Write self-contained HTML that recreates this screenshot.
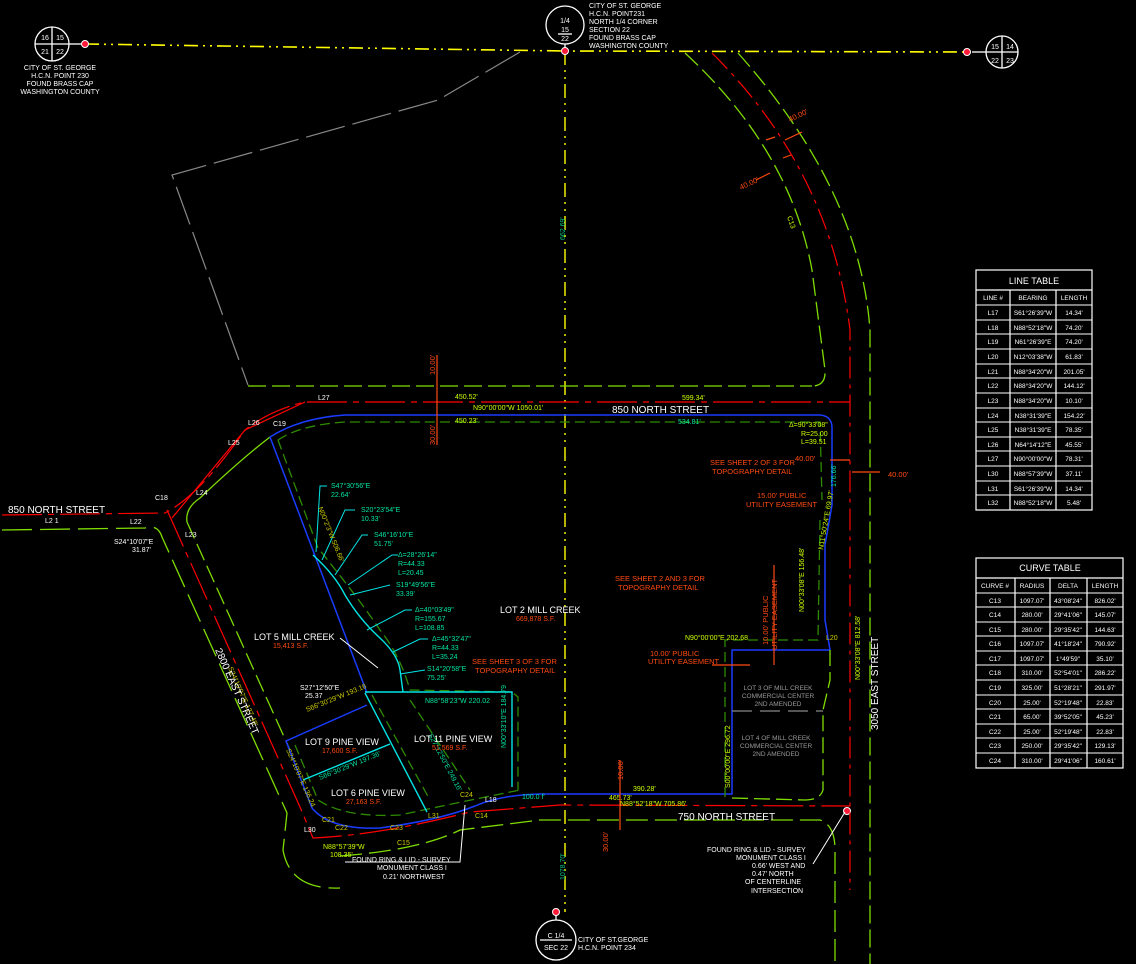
<!DOCTYPE html>
<html><head><meta charset="utf-8"><style>
html,body{margin:0;padding:0;background:#000;width:1136px;height:964px;overflow:hidden}
svg{display:block}
text{font-family:"Liberation Sans",sans-serif}
</style></head><body>
<svg width="1136" height="964" viewBox="0 0 1136 964" xmlns="http://www.w3.org/2000/svg">
<rect width="1136" height="964" fill="#000"/>
<polyline points="85,44 565,51 967,52" fill="none" stroke="#ffff00" stroke-width="1.6" stroke-dasharray="14,5,2,5,2,5"/>
<line x1="565" y1="51" x2="565" y2="912" stroke="#ffff00" stroke-width="1.4" stroke-dasharray="14,5,2,5,2,5"/>
<polyline points="520,52 438,100 172,175 248,385" fill="none" stroke="#888" stroke-width="1.2" stroke-dasharray="40,8"/>
<g stroke="#fff" stroke-width="1.3" fill="none">
<circle cx="52" cy="44" r="17"/><line x1="35" y1="44" x2="69" y2="44"/><line x1="52" y1="27" x2="52" y2="61"/>
<line x1="69" y1="44" x2="81" y2="44"/>
<circle cx="565" cy="25" r="19"/><line x1="565" y1="44" x2="565" y2="50"/>
<line x1="558" y1="34" x2="572" y2="34"/>
<circle cx="1002" cy="52" r="16"/><line x1="986" y1="52" x2="1018" y2="52"/><line x1="1002" y1="36" x2="1002" y2="68"/>
<line x1="986" y1="52" x2="972" y2="52"/>
<circle cx="556" cy="940" r="20"/><line x1="556" y1="910" x2="556" y2="920"/>
<line x1="540" y1="940" x2="572" y2="940"/>
</g>
<g fill="#ff1a3a" stroke="#fff" stroke-width="1"><circle cx="85" cy="44" r="3.5"/><circle cx="565" cy="51" r="3.5"/><circle cx="967" cy="52" r="3.5"/><circle cx="556" cy="912" r="3.5"/><circle cx="847" cy="811" r="3.5"/></g>
<g fill="#fff" font-size="7" text-anchor="middle">
<text x="45" y="40">16</text><text x="60" y="40">15</text><text x="45" y="54">21</text><text x="60" y="54">22</text>
<text x="565" y="23">1/4</text><text x="565" y="32">15</text><text x="565" y="41">22</text>
<text x="995" y="49">15</text><text x="1010" y="49">14</text><text x="995" y="63">22</text><text x="1010" y="63">23</text>
<text x="556" y="938">C 1/4</text><text x="556" y="950">SEC 22</text>
<text x="60" y="70">CITY OF ST. GEORGE</text><text x="60" y="78">H.C.N. POINT 230</text><text x="60" y="86">FOUND BRASS CAP</text><text x="60" y="94">WASHINGTON COUNTY</text>
</g>
<g fill="#fff" font-size="7">
<text x="589" y="8">CITY OF ST. GEORGE</text><text x="589" y="16">H.C.N. POINT231</text><text x="589" y="24">NORTH 1/4 CORNER</text><text x="589" y="32">SECTION 22</text><text x="589" y="40">FOUND BRASS CAP</text><text x="589" y="48">WASHINGTON COUNTY</text>
<text x="578" y="942">CITY OF ST.GEORGE</text><text x="578" y="950">H.C.N. POINT 234</text>
</g>
<path d="M685,53 Q790,150 812,270 L825,370 Q826,386 812,386" fill="none" stroke="#7fdd00" stroke-width="1.3" stroke-dasharray="18,6"/>
<line x1="248" y1="386" x2="812" y2="386" stroke="#7fdd00" stroke-width="1.3" stroke-dasharray="18,6"/>
<path d="M712,53 Q830,170 850,330 L850,890" fill="none" stroke="#ff0000" stroke-width="1.2" stroke-dasharray="22,6,4,6"/>
<path d="M738,53 Q860,190 870,330 L870,964" fill="none" stroke="#7fdd00" stroke-width="1.3" stroke-dasharray="18,6"/>
<path d="M2,515 L165,513 Q200,495 245,430 Q270,410 305,402 L850,402" fill="none" stroke="#ff0000" stroke-width="1.2" stroke-dasharray="40,6,6,6"/>
<polyline points="172,518 245,430 305,402" fill="none" stroke="#ff0000" stroke-width="1.2"/>
<path d="M2,530 L145,528 Q158,524 162,537 L287,813 L283,850 Q290,890 340,888" fill="none" stroke="#7fdd00" stroke-width="1.3" stroke-dasharray="30,8"/>
<path d="M187,522 Q185,508 200,498 Q240,460 270,437" fill="none" stroke="#7fdd00" stroke-width="1.3"/>
<line x1="187" y1="522" x2="290" y2="750" stroke="#7fdd00" stroke-width="1.3" stroke-dasharray="18,6"/>
<path d="M167,510 L300,807 L313,838 Q380,835 470,812 L560,805 L850,806" fill="none" stroke="#ff0000" stroke-width="1.2" stroke-dasharray="40,6,6,6"/>
<path d="M340,856 Q420,850 460,830 L540,820 L820,820 Q835,825 835,850 L835,964" fill="none" stroke="#7fdd00" stroke-width="1.3" stroke-dasharray="22,7"/>
<path d="M270,437 Q300,418 345,415 L820,415 Q832,416 832,428 L832,505 L825,545 L825,620 L830,650" fill="none" stroke="#1a3cff" stroke-width="1.5"/>
<path d="M270,437 L367,693 M367,705 L286,741 L312,808 Q330,830 380,828 Q440,820 475,806 Q500,795 540,794 L732,794 L732,650 L830,650" fill="none" stroke="#1a3cff" stroke-width="1.5"/>
<g fill="none" stroke="#2e8b00" stroke-width="1.3" stroke-dasharray="10,5">
<path d="M278,440 Q300,425 345,422 L820,422 L822,500 M820,520 L818,640 L725,640 L725,800"/>
<path d="M278,440 L318,548 Q360,600 380,630 Q400,655 410,690 L512,692 L518,697 L518,790"/>
<path d="M372,695 L430,800 M295,745 L318,800 Q345,818 400,815 Q470,800 520,790"/>
<path d="M410,700 L470,790"/>
</g>
<g fill="none" stroke="#00e5e5" stroke-width="1.4">
<path d="M313,555 Q335,575 345,595 Q360,620 380,638 Q398,655 400,670 L403,692"/>
<polyline points="365,692 512,692 512,787"/>
<line x1="365" y1="693" x2="427" y2="812"/>
<line x1="303" y1="780" x2="390" y2="744"/>
</g>
<path d="M830,650 L830,680 L823,710 L823,790 Q820,800 805,800 L732,798" fill="none" stroke="#7fdd00" stroke-width="1.3" stroke-dasharray="16,6"/>
<line x1="732" y1="711" x2="823" y2="711" stroke="#888" stroke-width="1.3" stroke-dasharray="20,8"/>
<g stroke="#00e5e5" stroke-width="1" fill="none">
<polyline points="327,486 320,486 316,552"/><polyline points="355,510 345,510 322,560"/><polyline points="368,535 362,535 335,575"/>
<polyline points="398,555 392,555 348,585"/><polyline points="390,585 350,595"/><polyline points="412,610 405,610 367,630"/>
<polyline points="428,639 420,639 393,652"/><polyline points="425,670 400,674"/>
</g>
<g font-size="7" fill="#00e5a0">
<text x="331" y="488">S47°30'56"E</text><text x="331" y="497">22.64'</text>
<text x="361" y="512">S20°23'54"E</text><text x="361" y="521">10.33'</text>
<text x="374" y="537">S46°16'10"E</text><text x="374" y="546">51.75'</text>
<text x="398" y="557">Δ=28°26'14"</text><text x="398" y="566">R=44.33</text><text x="398" y="575">L=20.45</text>
<text x="396" y="587">S19°49'56"E</text><text x="396" y="596">33.39'</text>
<text x="415" y="612">Δ=40°03'49"</text><text x="415" y="621">R=155.67</text><text x="415" y="630">L=108.85</text>
<text x="432" y="641">Δ=45°32'47"</text><text x="432" y="650">R=44.33</text><text x="432" y="659">L=35.24</text>
<text x="427" y="671">S14°20'58"E</text><text x="427" y="680">75.25'</text>
<text x="425" y="703">N88°58'23"W 220.02</text>
<text x="522" y="799">100.0 f'</text>
<text transform="translate(506,748) rotate(-90)">N00°33'10"E 184.79</text>
<text transform="translate(836,487) rotate(-90)">176.66'</text>
<text transform="translate(318,508) rotate(68)" fill="#cccc00">N00°2'3"W 506.66'</text>
<text transform="translate(565,240) rotate(-90)" fill="#00c080">662.69'</text>
<text transform="translate(565,880) rotate(-90)" fill="#00c080">1078.70'</text>
<text transform="translate(428,735) rotate(62)">S27°12'50"E 249.16'</text>
<text transform="translate(320,780) rotate(-22)">S66°30'29"W 197.36'</text>
</g>
<g font-size="7" fill="#ccff00">
<text transform="translate(804,612) rotate(-90)">N00°33'08"E 156.48'</text>
<text transform="translate(860,680) rotate(-90)">N00°33'08"E 812.58'</text>
<text transform="translate(730,788) rotate(-90)">S00°00'00"E 296.72</text>
<text transform="translate(823,550) rotate(-80)">N11°50'24"E 69.97'</text>
<text transform="translate(787,217) rotate(70)">C13</text>
<text transform="translate(228,668) rotate(66)" fill="#cccc00">S24°10'07"E 127.48'</text>
<text transform="translate(286,750) rotate(66)" fill="#cccc00">S24°10'07"E 136.24</text>
<text transform="translate(307,712) rotate(-22)" fill="#cccc00">S66°30'29"W 193.16</text>
<text x="460" y="797" fill="#cccc00">C24</text><text x="475" y="818" fill="#cccc00">C14</text>
<text x="390" y="830" fill="#cccc00">C23</text><text x="397" y="845" fill="#cccc00">C15</text>
<text x="335" y="830" fill="#cccc00">C22</text><text x="322" y="822" fill="#cccc00">C21</text>
<text x="428" y="818" fill="#cccc00">L31</text><text x="826" y="640" fill="#cccc00">L20</text>
</g>
<g font-size="7.5" fill="#ff4a10">
<text x="472" y="664">SEE SHEET 3 OF 3 FOR</text><text x="475" y="673">TOPOGRAPHY DETAIL</text>
<text x="615" y="581">SEE SHEET 2 AND 3 FOR</text><text x="618" y="590">TOPOGRAPHY DETAIL</text>
<text x="710" y="465">SEE SHEET 2 OF 3 FOR</text><text x="712" y="474">TOPOGRAPHY DETAIL</text>
<text x="757" y="498">15.00' PUBLIC</text><text x="746" y="507">UTILITY EASEMENT</text>
<text x="650" y="656">10.00' PUBLIC</text><text x="648" y="664">UTILITY EASEMENT</text>
<text x="795" y="461">40.00'</text>
<text x="888" y="477">40.00'</text>
<text transform="translate(790,122) rotate(-25)">40.00'</text>
<text transform="translate(741,190) rotate(-25)">40.00'</text>
<text transform="translate(768,645) rotate(-90)">10.00' PUBLIC</text>
<text transform="translate(777,650) rotate(-90)">UTILITY EASEMENT</text>
<text transform="translate(435,375) rotate(-90)">10.00'</text>
<text transform="translate(435,445) rotate(-90)">30.00'</text>
<text transform="translate(623,780) rotate(-90)">10.00'</text>
<text transform="translate(608,852) rotate(-90)">30.00'</text>
</g>
<g stroke="#ff4a10" stroke-width="1.2">
<line x1="802" y1="132" x2="785" y2="140"/><line x1="756" y1="180" x2="770" y2="173"/><line x1="766" y1="140" x2="775" y2="137"/><line x1="783" y1="158" x2="791" y2="155"/>
</g>
<g font-size="9" fill="#fff">
<text x="500" y="613">LOT 2 MILL CREEK</text>
<text x="254" y="640">LOT 5 MILL CREEK</text>
<text x="414" y="742">LOT 11 PINE VIEW</text>
<text x="305" y="745">LOT 9 PINE VIEW</text>
<text x="331" y="796">LOT 6 PINE VIEW</text>
<text x="612" y="413" font-size="10">850 NORTH STREET</text>
<text x="8" y="513" font-size="10">850 NORTH STREET</text>
<text x="678" y="820" font-size="10">750 NORTH STREET</text>
<text font-size="10" transform="translate(878,730) rotate(-90)">3050 EAST STREET</text>
<text font-size="10" transform="translate(215,650) rotate(66)">2800 EAST STREET</text>
</g>
<g font-size="7" fill="#ff4a10">
<text x="516" y="621">669,878 S.F.</text><text x="273" y="648">15,413 S.F.</text><text x="432" y="750">51,569 S.F.</text>
<text x="322" y="753">17,600 S.F.</text><text x="346" y="804">27,163 S.F.</text>
</g>
<g font-size="6.5" fill="#999" text-anchor="middle">
<text x="778" y="690">LOT 3 OF MILL CREEK</text><text x="778" y="698">COMMERCIAL CENTER</text><text x="778" y="706">2ND AMENDED</text>
<text x="776" y="740">LOT 4 OF MILL CREEK</text><text x="776" y="748">COMMERCIAL CENTER</text><text x="776" y="756">2ND AMENDED</text>
</g>
<g font-size="7" fill="#ccff00">
<text x="455" y="399">450.52'</text><text x="473" y="410">N90°00'00"W 1050.01'</text>
<text x="455" y="423">450.23'</text><text x="678" y="424" fill="#00e5a0">534.81'</text>
<text x="682" y="400">599.34'</text>
<text x="789" y="427">Δ=90°33'08"</text><text x="801" y="436">R=25.00</text><text x="801" y="444">L=39.51</text>
<text x="685" y="640">N90°00'00"E 202.68</text>
<text x="620" y="806">N88°52'18"W 705.86'</text>
<text x="323" y="849">N88°57'39"W</text><text x="330" y="857">108.35'</text>
<text x="609" y="800">465.73'</text><text x="633" y="791">390.28'</text>
</g>
<g font-size="7" fill="#fff">
<text x="318" y="400">L27</text><text x="273" y="426">C19</text><text x="155" y="500">C18</text><text x="130" y="524">L22</text>
<text x="45" y="523">L2 1</text><text x="185" y="537">L23</text><text x="114" y="544">S24°10'07"E</text><text x="132" y="552">31.87'</text>
<text x="485" y="802">L18</text><text x="304" y="832">L30</text>
<text x="248" y="425">L26</text><text x="228" y="445">L25</text><text x="196" y="495">L24</text>
<text x="300" y="690">S27°12'50"E</text><text x="305" y="698">25.37</text>
<text x="352" y="862">FOUND RING &amp; LID - SURVEY</text><text x="377" y="870">MONUMENT CLASS I</text><text x="383" y="879">0.21' NORTHWEST</text>
<text x="707" y="852">FOUND RING &amp; LID - SURVEY</text><text x="736" y="860">MONUMENT CLASS I</text><text x="752" y="868">0.66' WEST AND</text><text x="752" y="876">0.47' NORTH</text><text x="745" y="884">OF CENTERLINE</text><text x="751" y="893">INTERSECTION</text>
</g>
<g stroke="#fff" stroke-width="1" fill="none"><polyline points="345,862 460,862 465,805"/><polyline points="813,864 845,812"/><polyline points="340,638 378,668"/></g>
<g stroke="#ff4a10" stroke-width="1.2">
<line x1="437" y1="355" x2="437" y2="445"/><line x1="850" y1="460" x2="830" y2="460"/><line x1="852" y1="472" x2="880" y2="472"/>
<line x1="774" y1="565" x2="774" y2="665"/><line x1="620" y1="760" x2="620" y2="830"/><line x1="712" y1="665" x2="750" y2="665"/>
</g>
<g stroke="#fff" stroke-width="1.2" fill="none">
<rect x="976" y="270" width="116" height="240"/>
<line x1="976" y1="290" x2="1092" y2="290"/>
<line x1="1010" y1="290" x2="1010" y2="510"/><line x1="1056" y1="290" x2="1056" y2="510"/>
<rect x="976" y="558" width="147" height="210"/>
<line x1="976" y1="578" x2="1123" y2="578"/>
<line x1="1015" y1="578" x2="1015" y2="768"/><line x1="1050" y1="578" x2="1050" y2="768"/><line x1="1087" y1="578" x2="1087" y2="768"/>
</g>
<g stroke="#fff" stroke-width="1">
<line x1="976" y1="305" x2="1092" y2="305"/><line x1="976" y1="320" x2="1092" y2="320"/><line x1="976" y1="334" x2="1092" y2="334"/><line x1="976" y1="349" x2="1092" y2="349"/><line x1="976" y1="364" x2="1092" y2="364"/><line x1="976" y1="378" x2="1092" y2="378"/><line x1="976" y1="393" x2="1092" y2="393"/><line x1="976" y1="408" x2="1092" y2="408"/><line x1="976" y1="422" x2="1092" y2="422"/><line x1="976" y1="437" x2="1092" y2="437"/><line x1="976" y1="451" x2="1092" y2="451"/><line x1="976" y1="466" x2="1092" y2="466"/><line x1="976" y1="481" x2="1092" y2="481"/><line x1="976" y1="495" x2="1092" y2="495"/>
<line x1="976" y1="593" x2="1123" y2="593"/><line x1="976" y1="607" x2="1123" y2="607"/><line x1="976" y1="622" x2="1123" y2="622"/><line x1="976" y1="636" x2="1123" y2="636"/><line x1="976" y1="651" x2="1123" y2="651"/><line x1="976" y1="665" x2="1123" y2="665"/><line x1="976" y1="680" x2="1123" y2="680"/><line x1="976" y1="695" x2="1123" y2="695"/><line x1="976" y1="709" x2="1123" y2="709"/><line x1="976" y1="724" x2="1123" y2="724"/><line x1="976" y1="738" x2="1123" y2="738"/><line x1="976" y1="753" x2="1123" y2="753"/>
</g>
<g fill="#fff" font-size="6.5" text-anchor="middle">
<text x="1034" y="284" font-size="9">LINE TABLE</text>
<text x="993" y="300">LINE #</text><text x="1033" y="300">BEARING</text><text x="1074" y="300">LENGTH</text>
<text x="993" y="315">L17</text><text x="1033" y="315">S61°26'39"W</text><text x="1074" y="315">14.34'</text>
<text x="993" y="330">L18</text><text x="1033" y="330">N88°52'18"W</text><text x="1074" y="330">74.20'</text>
<text x="993" y="344">L19</text><text x="1033" y="344">N61°26'39"E</text><text x="1074" y="344">74.20'</text>
<text x="993" y="359">L20</text><text x="1033" y="359">N12°03'38"W</text><text x="1074" y="359">61.83'</text>
<text x="993" y="374">L21</text><text x="1033" y="374">N88°34'20"W</text><text x="1074" y="374">201.05'</text>
<text x="993" y="388">L22</text><text x="1033" y="388">N88°34'20"W</text><text x="1074" y="388">144.12'</text>
<text x="993" y="403">L23</text><text x="1033" y="403">N88°34'20"W</text><text x="1074" y="403">10.10'</text>
<text x="993" y="418">L24</text><text x="1033" y="418">N38°31'39"E</text><text x="1074" y="418">154.22'</text>
<text x="993" y="432">L25</text><text x="1033" y="432">N38°31'39"E</text><text x="1074" y="432">78.35'</text>
<text x="993" y="447">L26</text><text x="1033" y="447">N64°14'12"E</text><text x="1074" y="447">45.55'</text>
<text x="993" y="461">L27</text><text x="1033" y="461">N90°00'00"W</text><text x="1074" y="461">78.31'</text>
<text x="993" y="476">L30</text><text x="1033" y="476">N88°57'39"W</text><text x="1074" y="476">37.11'</text>
<text x="993" y="491">L31</text><text x="1033" y="491">S61°26'39"W</text><text x="1074" y="491">14.34'</text>
<text x="993" y="505">L32</text><text x="1033" y="505">N88°52'18"W</text><text x="1074" y="505">5.48'</text>
<text x="1050" y="571" font-size="9">CURVE TABLE</text>
<text x="995" y="588">CURVE #</text><text x="1032" y="588">RADIUS</text><text x="1068" y="588">DELTA</text><text x="1105" y="588">LENGTH</text>
<text x="995" y="603">C13</text><text x="1032" y="603">1097.07'</text><text x="1068" y="603">43°08'24"</text><text x="1105" y="603">826.02'</text>
<text x="995" y="617">C14</text><text x="1032" y="617">280.00'</text><text x="1068" y="617">29°41'06"</text><text x="1105" y="617">145.07'</text>
<text x="995" y="632">C15</text><text x="1032" y="632">280.00'</text><text x="1068" y="632">29°35'42"</text><text x="1105" y="632">144.63'</text>
<text x="995" y="646">C16</text><text x="1032" y="646">1097.07'</text><text x="1068" y="646">41°18'24"</text><text x="1105" y="646">790.92'</text>
<text x="995" y="661">C17</text><text x="1032" y="661">1097.07'</text><text x="1068" y="661">1°49'59"</text><text x="1105" y="661">35.10'</text>
<text x="995" y="675">C18</text><text x="1032" y="675">310.00'</text><text x="1068" y="675">52°54'01"</text><text x="1105" y="675">286.22'</text>
<text x="995" y="690">C19</text><text x="1032" y="690">325.00'</text><text x="1068" y="690">51°28'21"</text><text x="1105" y="690">291.97'</text>
<text x="995" y="705">C20</text><text x="1032" y="705">25.00'</text><text x="1068" y="705">52°19'48"</text><text x="1105" y="705">22.83'</text>
<text x="995" y="719">C21</text><text x="1032" y="719">65.00'</text><text x="1068" y="719">39°52'05"</text><text x="1105" y="719">45.23'</text>
<text x="995" y="734">C22</text><text x="1032" y="734">25.00'</text><text x="1068" y="734">52°19'48"</text><text x="1105" y="734">22.83'</text>
<text x="995" y="748">C23</text><text x="1032" y="748">250.00'</text><text x="1068" y="748">29°35'42"</text><text x="1105" y="748">129.13'</text>
<text x="995" y="763">C24</text><text x="1032" y="763">310.00'</text><text x="1068" y="763">29°41'06"</text><text x="1105" y="763">160.61'</text>
</g>
</svg>
</body></html>
